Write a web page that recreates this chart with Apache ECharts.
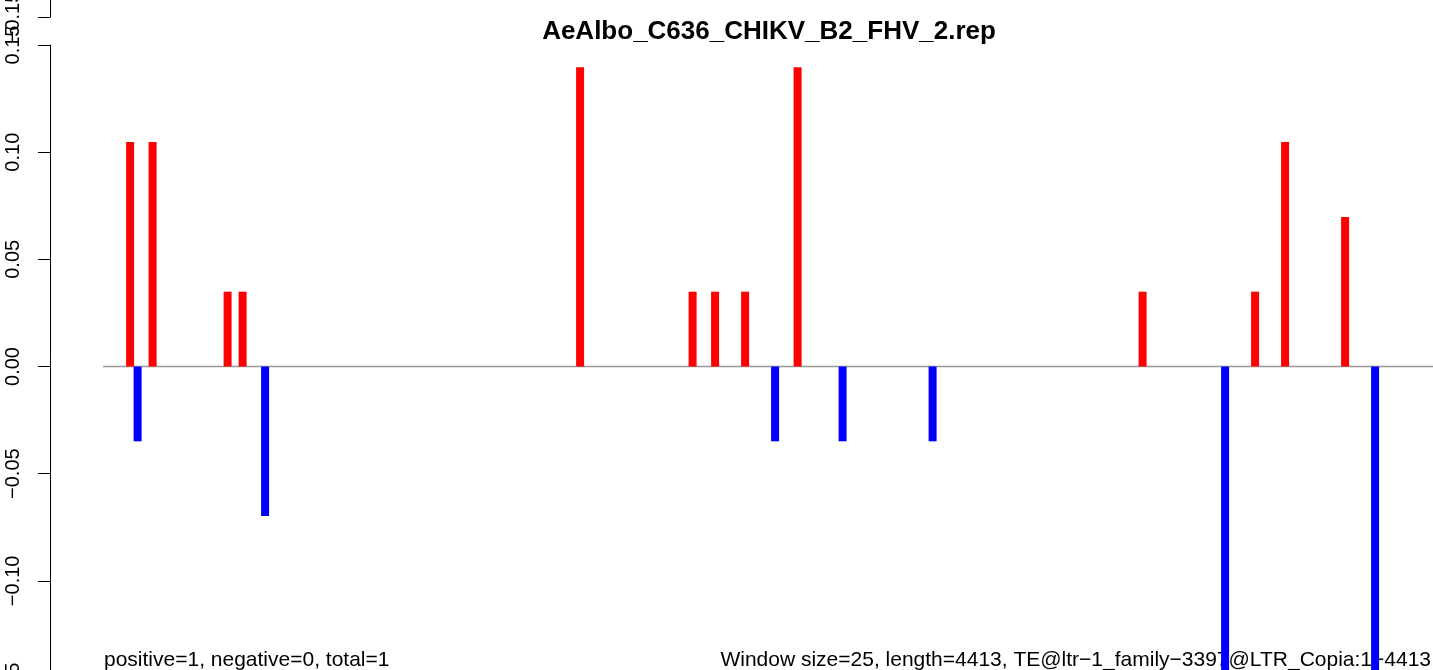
<!DOCTYPE html>
<html>
<head>
<meta charset="utf-8">
<script src="https://cdn.jsdelivr.net/npm/echarts@6/dist/echarts.min.js"></script>
<style>
  html, body { margin: 0; padding: 0; background: #fff; }
  #chart { width: 1433px; height: 670px; }
</style>
</head>
<body>
<div id="chart"></div>
<script>
// positions (bp) and values
const redPos = [90, 165, 415, 465, 1590, 1965, 2040, 2140, 2315, 3465, 3840, 3940, 4140];
const redVal = [0.1047, 0.1047, 0.0349, 0.0349, 0.1396, 0.0349, 0.0349, 0.0349, 0.1396, 0.0349, 0.0349, 0.1047, 0.0698];
const bluePos = [115, 540, 2240, 2465, 2765, 3740, 4240];
const blueVal = [-0.0349, -0.0698, -0.0349, -0.0349, -0.0349, -0.1745, -0.1745];
const seqStart = 0;
const seqEnd = 4433;

const titleText = 'AeAlbo_C636_CHIKV_B2_FHV_2.rep';
const leftNote = 'positive=1, negative=0, total=1';
const rightNote = 'Window size=25, length=4413, TE@ltr\u22121_family\u22123397@LTR_Copia:1\u22124413';

const font = 'Liberation Sans, Arial, Helvetica, sans-serif';

const fmt = (v) => {
    const a = Math.abs(v).toFixed(2);
    return v < -1e-9 ? '\u2212' + a : a;
};

const yAxisBase = {
    type: 'value',
    min: -0.15,
    max: 0.15,
    interval: 0.05,
    splitLine: { show: false },
    axisLine: { show: true, onZero: false, lineStyle: { color: '#000', width: 1 } },
    axisTick: { show: true, length: 12, lineStyle: { color: '#000', width: 1 } },
    axisLabel: {
        rotate: 90,
        margin: 27,
        color: '#000',
        fontSize: 20,
        fontFamily: font,
        formatter: fmt
    }
};

const chart = echarts.init(document.getElementById('chart'));
chart.setOption({
    animation: false,
    backgroundColor: '#fff',
    grid: [
        { left: 50, top: 45, width: 1383, height: 643, containLabel: false, outerBoundsMode: 'none' },
        { left: 50, top: -626, width: 1383, height: 643, containLabel: false, outerBoundsMode: 'none' }
    ],
    xAxis: [
        { type: 'value', gridIndex: 0, min: -177, max: 4433, show: false },
        { type: 'value', gridIndex: 1, min: -177, max: 4433, show: false }
    ],
    yAxis: [
        Object.assign({ gridIndex: 0 }, yAxisBase),
        Object.assign({ gridIndex: 1 }, yAxisBase)
    ],
    graphic: [
        {
            type: 'text', z: 0,
            style: {
                text: titleText, x: 769, y: 32, align: 'center', verticalAlign: 'middle',
                font: 'bold 26px ' + font, fill: '#000'
            }
        },
        {
            type: 'text', z: 0,
            style: {
                text: leftNote, x: 104, y: 660, align: 'left', verticalAlign: 'middle',
                font: '21px ' + font, fill: '#000'
            }
        },
        {
            type: 'text', z: 0,
            style: {
                text: rightNote, x: 1431, y: 660, align: 'right', verticalAlign: 'middle',
                font: '21px ' + font, fill: '#000'
            }
        }
    ],
    series: [
        {
            type: 'line',
            xAxisIndex: 0, yAxisIndex: 0,
            data: [[seqStart, 0], [seqEnd, 0]],
            showSymbol: false,
            lineStyle: { color: '#999', width: 1.5 },
            z: 1
        },
        {
            type: 'bar',
            xAxisIndex: 0, yAxisIndex: 0,
            data: redPos.map((p, i) => [p, redVal[i]]),
            barWidth: 8,
            barGap: '-100%',
            itemStyle: { color: '#ff0000' },
            z: 3
        },
        {
            type: 'bar',
            xAxisIndex: 0, yAxisIndex: 0,
            data: bluePos.map((p, i) => [p, blueVal[i]]),
            barWidth: 8,
            barGap: '-100%',
            itemStyle: { color: '#0000ff' },
            z: 3
        }
    ]
});
</script>
</body>
</html>
